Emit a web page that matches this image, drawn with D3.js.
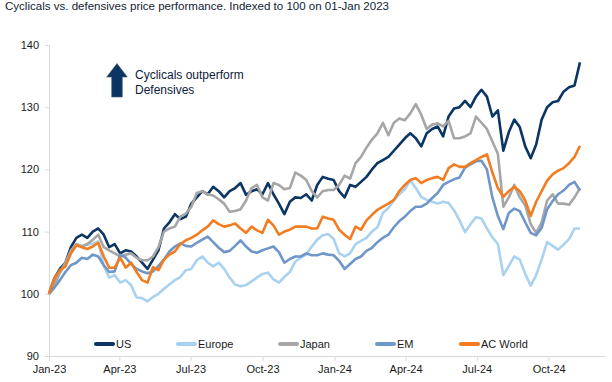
<!DOCTYPE html>
<html>
<head>
<meta charset="utf-8">
<script src="https://cdn.jsdelivr.net/npm/d3@7"></script>
<style>
  html, body { margin: 0; padding: 0; background: #fff; }
  svg { display: block; }
  text { font-family: "Liberation Sans", Arial, sans-serif; }
</style>
</head>
<body>
<svg id="chart" width="612" height="382"></svg>
<script>
// ---- Data (weekly observations, indexed to 100 on 01-Jan 2023) ----
const startDate = "2023-01-01";
const weekCount = 98;

const seriesNames = ["US", "Europe", "Japan", "EM", "AC World"];
const seriesColors = ["#0b3563", "#a9d1f0", "#a6a6a6", "#6f96c8", "#f47c20"];

const usValues = [100,102.5,104,105,107.5,109,109.5,109,110,110.5,109.5,107.5,108,106.5,107,106.8,106,105,104,105.5,107,110.5,111.5,112.8,112,112.4,114.5,115.5,116.5,116,117.2,116.5,115.5,116.5,117,117.8,115.9,116.5,116.8,116,117.8,116,114.5,112.8,114.8,115.5,115.4,116,115,117.5,118.8,118.5,118.3,116.5,115.5,117.5,117.2,118,118.8,120,121,121.5,122,123,124,125,125.8,125,123.7,125.8,126.5,126.9,125.3,128.5,129.8,130,131,130,131.7,132.8,131.7,128.5,129.5,123,126,128,126.8,123.7,121.8,124,128,130,130.8,131,132.5,133.2,133.5,137.2];

const europeValues = [100,101.5,103.3,104.8,106.5,107.8,107.7,107.9,108.1,108.4,104.5,102.6,103,101.8,102.2,101.4,99.4,99.3,98.8,99.5,100,100.8,101.5,102.2,102.7,103.8,104,105.4,106,105,104.4,105,104,102.6,101.5,101.2,101.4,102,102.6,103.2,103.4,102.3,101.8,102.7,103.5,105.2,105.8,106.3,107.6,108.7,109.4,109.6,108.8,106.5,106,106.5,108,108.5,109,110,110.7,113,113.8,115,116,116.8,118.2,117,115.6,115.1,114.8,114.5,114.8,114.6,113.4,111.8,109.9,111.2,112.3,112.1,110.5,109.1,108,103,104.5,106,105.5,103.2,101.3,103,105.5,108.3,107.7,107.1,107.9,108.8,110.5,110.5];

const japanValues = [100,101.5,103.5,105,107,108,107.6,108,108.7,109.5,107.5,107,106.5,106,106.3,106.5,105.8,105.4,105.4,106,107.5,110,110.5,110.8,112.4,112.9,114,116.2,116.5,116,115.8,115.2,114.5,113.2,113.3,113.6,115,117,117.5,115.5,115,117.8,117.5,116.8,117,119.5,119,118.3,116.5,115.5,116.5,116.7,116.7,117.5,119,118.5,121,122,123.5,124.8,125.8,127.5,125.5,127.5,128.2,127.9,129,130.5,128.8,126.5,127.2,127.4,126.9,127.8,125,125,125.3,125.8,128.5,127.5,126.5,124.5,122.5,114,115.5,117.5,115.5,114.2,111.2,109.8,111.5,115,116,114.5,114.5,114.3,115.5,117];

const emValues = [100,101,102.2,103.5,104.6,105,105.8,105.6,106.3,106,104.6,103.5,103.6,106.3,105.8,104.8,104,103.6,103.3,103.6,104.5,105.5,106.8,107.6,108.1,107.7,107.6,108.2,108.7,109.2,108.3,107.4,106.7,106.9,107.7,108.6,107.6,106.8,106.6,107,107.3,107.6,106.7,105,105.6,106,106,106.5,106.2,106.2,106.5,106.3,106.2,105.3,104,104.8,105.6,106,106.9,107.4,108.3,109,109.5,110.7,111.7,112.4,113.3,114,114,114.5,115.4,116.2,117.5,118,118.4,118.7,120.3,120.8,121.3,121.4,120,115.5,112.5,110.4,113,113.7,113.3,111.5,109.8,109.4,110.6,113.6,114.9,116,116.6,117.5,118,116.6];

const acWorldValues = [100,102.5,103.8,104.4,106.5,107.8,107.5,107.2,107.6,108.2,106,104.2,104.2,105.8,104.2,105,103.5,102.2,101.8,104.3,103.8,105.5,106.3,106.8,108,108.6,109,109.5,110.2,110.8,111.8,111.2,110.8,111,111.3,110.5,109.8,110.8,110.2,109.8,111.9,111,109.5,110,110.3,110.8,110.8,110.8,110.5,110.5,112.4,112.1,111.9,110.3,109.5,108.8,110.8,110.3,111.8,112.7,113.5,114,114.5,115.1,116.5,117.5,118.3,118.6,117.8,118.3,118.6,118.8,118.3,120.2,120.8,120.4,120.4,121,121.5,122,122.4,119.5,117,115.6,116.5,117.2,116.5,115,112.5,114.8,116.5,118.2,119.2,119.8,120.2,121,122,123.8];

const yTicks = [90, 100, 110, 120, 130, 140];
const titleText = "Cyclicals vs. defensives price performance. Indexed to 100 on 01-Jan 2023";
const annotationLines = ["Cyclicals outperform", "Defensives"];

// ---- Build ----
const allValues = [usValues, europeValues, japanValues, emValues, acWorldValues];
const t0 = new Date(startDate + "T00:00:00Z");
const dates = d3.range(weekCount).map(i => d3.utcDay.offset(t0, 7 * i));

const svg = d3.select("#chart");
const x = d3.scaleUtc()
  .domain([t0, new Date("2024-12-12T00:00:00Z")])
  .range([49, 605]);
const y = d3.scaleLinear().domain([90, 140]).range([356, 45]);

// Title
svg.append("text")
  .attr("x", 5).attr("y", 10)
  .attr("font-family", "'Liberation Sans Narrow', 'Arial Narrow', 'Liberation Sans', sans-serif")
  .attr("font-size", 11.5)
  .attr("fill", "#111c33")
  .attr("textLength", 384)
  .attr("lengthAdjust", "spacingAndGlyphs")
  .text(titleText);

// Y axis
const yAxis = svg.append("g").attr("transform", "translate(49,0)")
  .call(d3.axisLeft(y).tickValues(yTicks).tickSize(4).tickPadding(6).tickFormat(d3.format("d")));
yAxis.select(".domain").attr("stroke", "#d9d9d9");
yAxis.selectAll(".tick line").attr("stroke", "#d9d9d9");
yAxis.selectAll(".tick text").attr("font-size", 11).attr("fill", "#1a1a1a")
  .attr("font-family", "'Liberation Sans', Arial, sans-serif");

// X axis
const xAxis = svg.append("g").attr("transform", "translate(0,356)")
  .call(d3.axisBottom(x).ticks(d3.utcMonth.every(3)).tickSize(5).tickPadding(4)
    .tickFormat(d3.utcFormat("%b-%y")).tickSizeOuter(0));
xAxis.select(".domain").attr("stroke", "#d9d9d9");
xAxis.selectAll(".tick line").attr("stroke", "#d9d9d9");
xAxis.selectAll(".tick text").attr("font-size", 11).attr("fill", "#1a1a1a")
  .attr("font-family", "'Liberation Sans', Arial, sans-serif");

// Lines
const line = d3.line()
  .x((d, i) => x(dates[i]))
  .y(d => y(d));
allValues.forEach((vals, k) => {
  svg.append("path")
    .datum(vals)
    .attr("fill", "none")
    .attr("stroke", seriesColors[k])
    .attr("stroke-width", 2.6)
    .attr("stroke-linejoin", "round")
    .attr("d", line);
});

// Annotation arrow
const ax = 117, ay = 63.5;
svg.append("path")
  .attr("d", `M${ax},${ay} L${ax+10.3},${ay+13.5} L${ax+5.3},${ay+13.5} L${ax+5.3},${ay+33.5} L${ax-5.3},${ay+33.5} L${ax-5.3},${ay+13.5} L${ax-10.3},${ay+13.5} Z`)
  .attr("fill", "#0b3563")
  .attr("stroke", "#4a5a6a")
  .attr("stroke-width", 0.6);
svg.append("text")
  .attr("x", 135).attr("y", 79)
  .attr("font-size", 12).attr("fill", "#0d1a3a")
  .selectAll("tspan").data(annotationLines).enter().append("tspan")
  .attr("x", 135).attr("dy", (d, i) => i === 0 ? 0 : 15)
  .text(d => d);

// Legend
const legendX = [94, 176, 278, 375, 459];
const legend = svg.append("g");
seriesNames.forEach((name, k) => {
  legend.append("line")
    .attr("x1", legendX[k] + 2).attr("x2", legendX[k] + 19)
    .attr("y1", 344).attr("y2", 344)
    .attr("stroke", seriesColors[k]).attr("stroke-width", 4)
    .attr("stroke-linecap", "round");
  legend.append("text")
    .attr("x", legendX[k] + 22).attr("y", 348)
    .attr("font-size", 11).attr("fill", "#1a1a1a")
    .text(name);
});
</script>
</body>
</html>
